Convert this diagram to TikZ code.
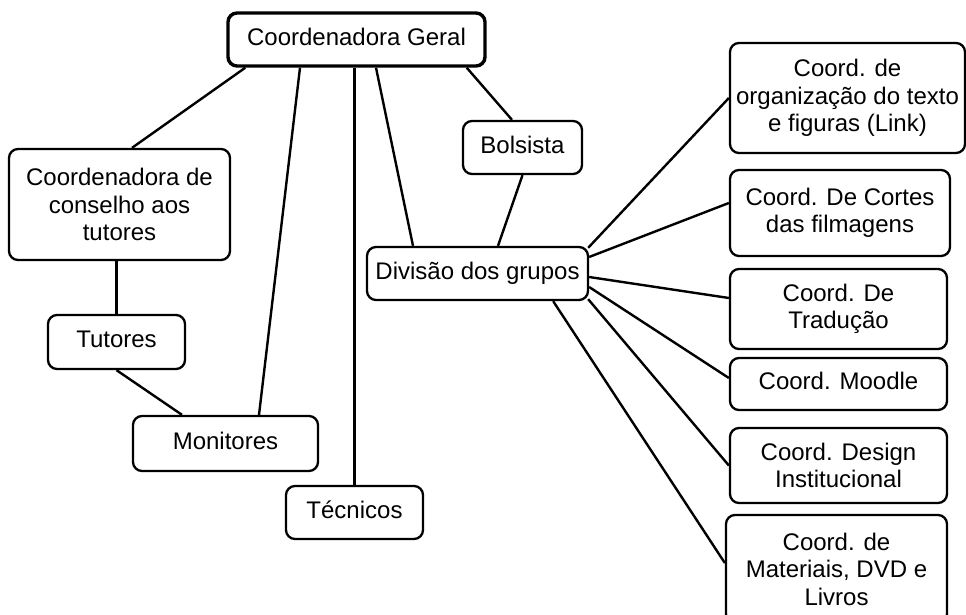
\documentclass[tikz,border=0pt]{standalone}
\usepackage{fontspec}
\setmainfont{Liberation Sans}
\usepackage{tikz}
\usetikzlibrary{positioning, calc}
\tikzset{
  box/.style={rectangle, rounded corners=9pt, draw=black, line width=2.3pt,
    fill=white, text centered, font=\fontsize{24}{27.5}\selectfont, inner sep=2pt},
  onebox/.style={box, text depth=0.55em},
  multibox/.style={box, align=center},
  topbox/.style={onebox, line width=3.4pt},
  link/.style={line width=2.4pt}
}

\begin{document}
\begin{tikzpicture}[x=1pt, y=-1pt]
\useasboundingbox (0,0) rectangle (966,615);
\node (geral)     [topbox,   minimum width=257pt, minimum height=53pt]  at (356.5,39.5) {Coordenadora Geral};
\node (conselho)  [multibox, minimum width=221pt, minimum height=111pt] at (119.5,204.5) {Coordenadora de\\conselho aos\\tutores};
\node (tutores)   [onebox,   minimum width=137pt, minimum height=54pt]  at (116.5,342)   {Tutores};
\node (monitores) [onebox,   minimum width=185pt, minimum height=55pt]  at (225.5,443.5) {Monitores};
\node (tecnicos)  [onebox,   minimum width=137pt, minimum height=53pt]  at (354.5,512.5) {Técnicos};
\node (bolsista)  [onebox,   minimum width=119pt, minimum height=53pt]  at (522.5,147.5) {Bolsista};
\node (divisao)   [onebox,   minimum width=221pt, minimum height=53pt]  at (477.5,273.5) {Divisão dos grupos};
\node (link)      [multibox, minimum width=235pt, minimum height=110pt] at (847.5,98)    {Coord. de\\organização do texto\\e figuras (Link)};
\node (cortes)    [multibox, minimum width=220pt, minimum height=86pt]  at (840,213)     {Coord. De Cortes\\das filmagens};
\node (traducao)  [multibox, minimum width=217pt, minimum height=80pt]  at (838.5,309)   {Coord. De\\Tradução};
\node (moodle)    [onebox,   minimum width=217pt, minimum height=52pt]  at (838.5,384)   {Coord. Moodle};
\node (design)    [multibox, minimum width=217pt, minimum height=75pt]  at (838.5,465.5) {Coord. Design\\Institucional};
\node (materiais) [multibox, minimum width=221pt, minimum height=108pt] at (836.5,569)   {Coord. de\\Materiais, DVD e\\Livros};

\draw [link] ($(geral.south west)+(19,0)$)  -- ($(conselho.north)+(12.5,0)$);
\draw [link] ($(geral.south)+(-56.5,0)$)    -- ($(monitores.north)+(33.5,0)$);
\draw [link] (tecnicos.north |- geral.south) -- (tecnicos.north);
\draw [link] ($(geral.south)+(19.5,0)$)     -- ($(divisao.north)+(-64.5,0)$);
\draw [link] ($(geral.south east)+(-20,0)$) -- ($(bolsista.north)+(-10.5,0)$);
\draw [link] (bolsista.south)               -- ($(divisao.north)+(20.5,0)$);
\draw [link] (tutores.north |- conselho.south) -- (tutores.north);
\draw [link] (tutores.south)                -- ($(monitores.north)+(-43.5,0)$);
\draw [link] ($(divisao.north east)+(-1,2)$) -- (link.west);
\draw [link] ($(divisao.east)+(0,-16.5)$)   -- ($(cortes.west)+(0,-10)$);
\draw [link] ($(divisao.east)+(0,3.5)$)     -- ($(traducao.west)+(0,-11)$);
\draw [link] ($(divisao.east)+(0,13.5)$)    -- ($(moodle.west)+(0,-6)$);
\draw [link] ($(divisao.south east)+(-1,-2)$) -- (design.west);
\draw [link] ($(divisao.south east)+(-36,0)$) -- ($(materiais.west)+(0,-6)$);
\end{tikzpicture}
\end{document}
